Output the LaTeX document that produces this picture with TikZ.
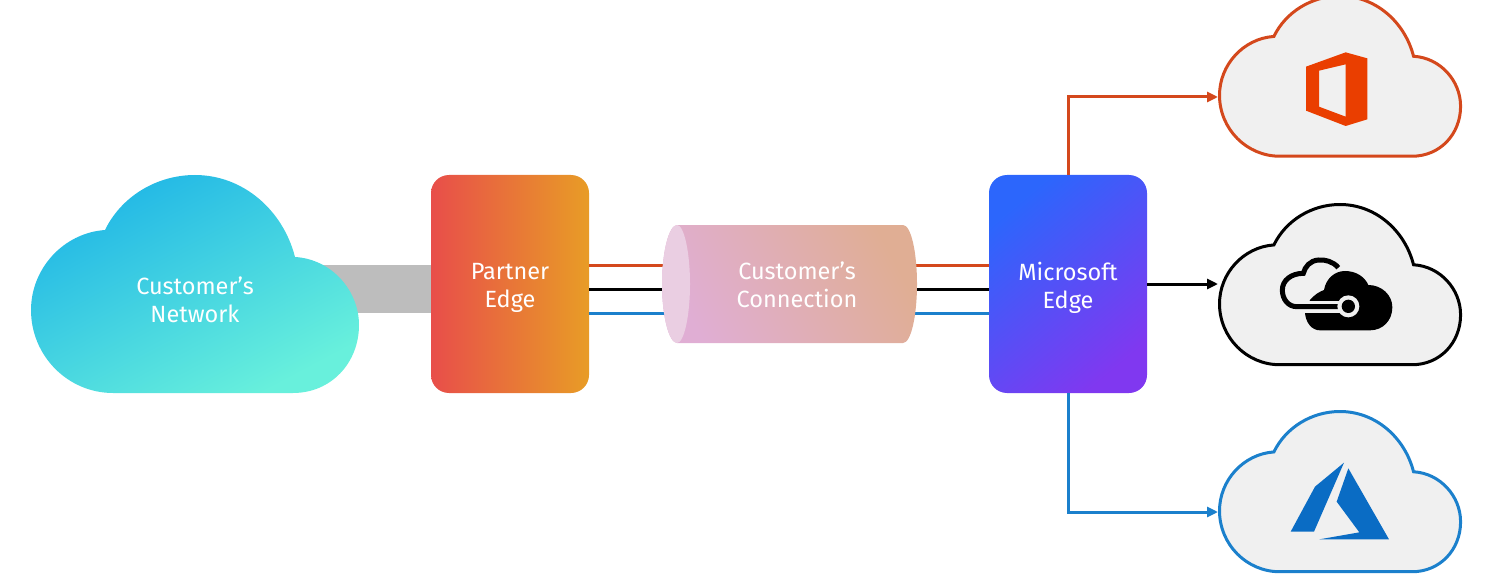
\documentclass[tikz,border=0pt]{standalone}
\usepackage{fontspec}
\setmainfont{Fira Sans}
\usetikzlibrary{arrows.meta,calc}
\definecolor{orangeline}{HTML}{D4481C}
\definecolor{blueline}{HTML}{1B80CC}
\definecolor{officered}{HTML}{EA3E00}
\definecolor{azureblue}{HTML}{0A6CC4}
\definecolor{cloudgrey}{HTML}{F0F0F0}
\definecolor{cloudcyan}{HTML}{20B6E6}
\definecolor{cloudmint}{HTML}{68F0DC}
\definecolor{barred}{HTML}{E84E4A}
\definecolor{barorange}{HTML}{E89C26}
\definecolor{msblue}{HTML}{2C66FC}
\definecolor{mspurple}{HTML}{8038F0}
\definecolor{cylpink}{HTML}{E0AED4}
\definecolor{cylsand}{HTML}{E0AE94}
\definecolor{cylface}{HTML}{EACEE2}
\newcommand{\cloudshape}{(82,218) -- (262,218) .. controls (300,218) and (328,188) .. (328,150)
  .. controls (328,115) and (300,84) .. (264,82)
  .. controls (252,35) and (212,0) .. (164,0)
  .. controls (125,0) and (90,22) .. (74,55)
  .. controls (32,58) and (0,94) .. (0,135)
  .. controls (0,181) and (37,218) .. (82,218) -- cycle}
\tikzset{
  label text/.style={text=white,align=center,font=\fontsize{23.5}{28.5}\selectfont},
  edge box/.style={rounded corners=18pt,minimum width=158pt,minimum height=218pt,inner sep=0pt},
  service/.style={draw=#1,line width=3pt,fill=cloudgrey},
  wire/.style={line width=3pt},
  feed/.style={line width=3pt,-{Triangle[length=11pt,width=10pt]}},
}
\begin{document}
\begin{tikzpicture}[x=1pt,y=-1pt]
\useasboundingbox (0,0) rectangle (1489,575);
% edge boxes
\node[edge box,left color=barred,right color=barorange] (partner) at (510,284) {};
\node[edge box,shade,shading=axis,top color=msblue,bottom color=mspurple,shading angle=40] (ms) at (1068,284) {};
\node[label text] (partnertext) at ([yshift=-4pt]partner.center) {Partner\\Edge};
\node[label text] (mstext) at ([yshift=-4pt]ms.center) {Microsoft\\Edge};
% anchor points of the clouds
\coordinate (office) at (1218,97);
\coordinate (azure) at (1218,284);
\coordinate (cloudsvc) at (1218,512);
\coordinate (netedge) at (320,289);
% grey bar to the customer's cloud
\draw[line width=48pt,color={rgb,255:red,189;green,189;blue,189}] (netedge) -- (netedge -| partner.west);
% customer's cloud
\begin{scope}[shift={(31,175)}]
\shade[top color=cloudcyan,bottom color=cloudmint,shading angle=28] \cloudshape;
\end{scope}
\node[label text] (network) at (195,300) {Customer’s\\Network};
% three wires through the connection
\draw[wire,orangeline] ([yshift=19pt]partner.east) -- ([yshift=19pt]ms.west);
\draw[wire,black] ([yshift=-5pt]partner.east) -- ([yshift=-5pt]ms.west);
\draw[wire,blueline] ([yshift=-29pt]partner.east) -- ([yshift=-29pt]ms.west);
% cylinder
\shade[top color=cylsand,bottom color=cylpink,shading angle=-62]
  (677,225) -- (903,225) .. controls (911,225) and (917,252) .. (917,284)
  .. controls (917,316) and (911,343) .. (903,343) -- (677,343)
  .. controls (669,343) and (662,316) .. (662,284)
  .. controls (662,252) and (669,225) .. (677,225) -- cycle;
\fill[cylface] (677,225) .. controls (684,225) and (690,252) .. (690,284)
  .. controls (690,316) and (684,343) .. (677,343)
  .. controls (669,343) and (662,316) .. (662,284)
  .. controls (662,252) and (669,225) .. (677,225) -- cycle;
\node[label text] (connection) at (797,285) {Customer’s\\Connection};
% outgoing connectors
\draw[feed,orangeline] (ms.north) |- (office);
\draw[feed,black] (ms.east) -- (azure);
\draw[feed,blueline] (ms.south) |- (cloudsvc);
% service clouds
\begin{scope}[shift={(1219.5,-4)},scale=.735]
\path[service=orangeline] \cloudshape;
\end{scope}
\begin{scope}[shift={(1219.5,204.5)},scale=.735]
\path[service=black] \cloudshape;
\end{scope}
\begin{scope}[shift={(1219.5,411.5)},scale=.735]
\path[service=blueline] \cloudshape;
\end{scope}
% office logo
\begin{scope}[shift={(1200,0)},scale=1/3]
\fill[officered,even odd rule] (318,200) -- (437,157) -- (502,175) -- (502,358) -- (437,378) -- (318,332) -- cycle
  (357,212) -- (437,193) -- (437,350) -- (357,320) -- cycle;
\end{scope}
% azure cloud logo
\begin{scope}[shift={(1200,190)},scale=1/3]
\fill[black] (315,370) -- (330,330)
  .. controls (342,315) and (358,305) .. (372,300)
  .. controls (378,265) and (405,243) .. (435,243)
  .. controls (470,243) and (495,262) .. (505,285)
  .. controls (545,285) and (577,315) .. (577,352)
  .. controls (577,392) and (548,421) .. (510,421)
  -- (360,421) .. controls (335,421) and (318,398) .. (315,370) -- cycle;
\draw[cloudgrey,line width=12pt] (300,350) -- (440,350);
\draw[black,line width=5pt] (415,233) .. controls (400,215) and (375,208) .. (355,210)
  .. controls (330,212) and (315,230) .. (310,250)
  .. controls (275,250) and (247,270) .. (247,300)
  .. controls (247,328) and (265,350) .. (290,350) -- (430,350);
\fill[cloudgrey] (445,349) circle (33);
\fill[black] (445,349) circle (20);
\end{scope}
% azure A logo
\begin{scope}[shift={(1200,385)},scale=1/3]
\fill[azureblue] (432,233) -- (345,305) -- (272,440) -- (342,440) -- cycle;
\fill[azureblue] (445,250) -- (410,350) -- (478,442) -- (358,463) -- (567,463) -- cycle;
\end{scope}
\end{tikzpicture}
\end{document}
